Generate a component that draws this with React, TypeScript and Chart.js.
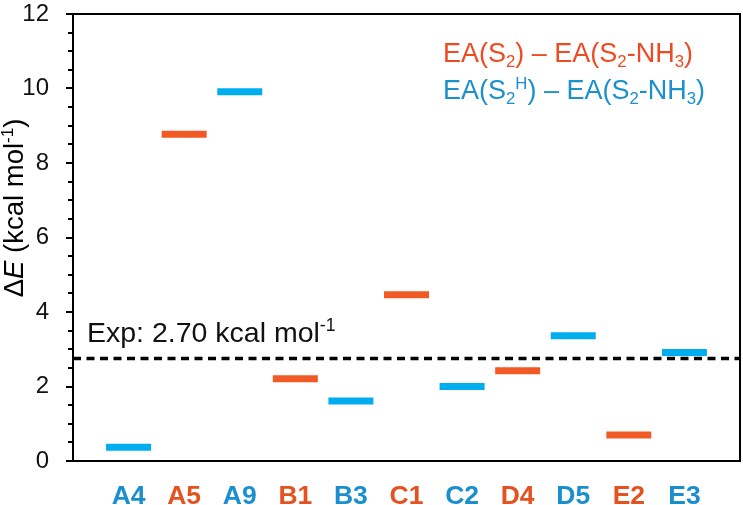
import React, { useEffect, useRef } from "react";
import { Chart, registerables } from "chart.js";

Chart.register(...registerables);

const FONT = '"Liberation Sans", Arial, Helvetica, sans-serif';

const categories = ["A4", "A5", "A9", "B1", "B3", "C1", "C2", "D4", "D5", "E2", "E3"];
// EA(S2) – EA(S2-NH3)  (orange)
const orangeValues: (number | null)[] = [null, 8.77, null, 2.21, null, 4.46, null, 2.42, null, 0.7, null];
// EA(S2H) – EA(S2-NH3) (blue)
const blueValues: (number | null)[] = [0.37, null, 9.91, null, 1.61, null, 2.0, null, 3.36, null, 2.91];
const expValue = 2.75;
const yTicks = [0, 2, 4, 6, 8, 10, 12];

const ORANGE = "#F15A24";
const BLUE = "#00AEEF";
const ORANGE_TXT = "#E4531F";
const BLUE_TXT = "#1A8FCF";
const LEG_ORANGE = "#EF4B23";
const LEG_BLUE = "#1A90CC";

type Seg = { t: string; sub?: boolean; sup?: boolean; italic?: boolean };

function drawRich(ctx: CanvasRenderingContext2D, segs: Seg[], x: number, y: number, size: number, color: string, align: "left" | "center" = "left") {
  const fontFor = (s: Seg) => {
    const sz = s.sub || s.sup ? size * 0.62 : size;
    return `${s.italic ? "italic " : ""}${sz}px ${FONT}`;
  };
  let total = 0;
  const widths = segs.map((s) => {
    ctx.font = fontFor(s);
    const w = ctx.measureText(s.t).width;
    total += w;
    return w;
  });
  let cx = align === "center" ? x - total / 2 : x;
  ctx.fillStyle = color;
  ctx.textAlign = "left";
  ctx.textBaseline = "alphabetic";
  segs.forEach((s, i) => {
    ctx.font = fontFor(s);
    const dy = s.sub ? size * 0.2 : s.sup ? -size * 0.38 : 0;
    ctx.fillText(s.t, cx, y + dy);
    cx += widths[i];
  });
}

const decorPlugin = {
  id: "decor",
  afterDraw(chart: any) {
    const ctx: CanvasRenderingContext2D = chart.ctx;
    const area = chart.chartArea;
    const ys = chart.scales.y;
    ctx.save();
    // frame
    ctx.strokeStyle = "#000";
    ctx.lineWidth = 2;
    ctx.strokeRect(area.left, area.top, area.right - area.left, area.bottom - area.top);
    // ticks
    for (let v = ys.min; v <= ys.max + 1e-9; v += 0.5) {
      const py = Math.round(ys.getPixelForValue(v));
      const major = Math.abs(v / 2 - Math.round(v / 2)) < 1e-9;
      const len = major ? 7 : 5;
      ctx.beginPath();
      ctx.moveTo(area.left - len, py);
      ctx.lineTo(area.left, py);
      ctx.stroke();
    }
    // Y title
    ctx.save();
    ctx.translate(23, 208);
    ctx.rotate(-Math.PI / 2);
    drawRich(ctx, [{ t: "Δ" }, { t: "E", italic: true }, { t: " (kcal mol" }, { t: "-1", sup: true }, { t: ")" }], 0, 0, 27.5, "#000", "center");
    ctx.restore();
    // Exp label
    drawRich(ctx, [{ t: "Exp: 2.70 kcal mol" }, { t: "-1", sup: true }], area.left + 14, ys.getPixelForValue(expValue) - 17, 28.5, "#111");
    // legend
    drawRich(ctx, [{ t: "EA(S" }, { t: "2", sub: true }, { t: ") – EA(S" }, { t: "2", sub: true }, { t: "-NH" }, { t: "3", sub: true }, { t: ")" }], 443, 62, 27, LEG_ORANGE);
    drawRich(ctx, [{ t: "EA(S" }, { t: "2", sub: true }, { t: "H", sup: true }, { t: ") – EA(S" }, { t: "2", sub: true }, { t: "-NH" }, { t: "3", sub: true }, { t: ")" }], 443, 99, 27, LEG_BLUE);
    ctx.restore();
  },
};

export default function App() {
  const ref = useRef<HTMLCanvasElement | null>(null);
  useEffect(() => {
    if (!ref.current) return;
    const toPts = (vals: (number | null)[]) =>
      vals.map((v, i) => (v === null ? null : { x: i, y: v })).filter((p) => p !== null) as { x: number; y: number }[];
    const groupColor = categories.map((_, i) => (orangeValues[i] !== null ? ORANGE_TXT : BLUE_TXT));
    const chart = new Chart(ref.current, {
      type: "scatter",
      data: {
        datasets: [
          {
            type: "line",
            label: "Exp",
            data: [
              { x: -1, y: expValue },
              { x: categories.length, y: expValue },
            ],
            borderColor: "#000",
            borderWidth: 3.5,
            borderDash: [8, 5.5],
            pointRadius: 0,
            order: 0,
          } as any,
          {
            label: "EA(S2) – EA(S2-NH3)",
            data: toPts(orangeValues),
            pointStyle: "line",
            radius: 22.5,
            borderWidth: 7,
            borderColor: ORANGE,
            backgroundColor: ORANGE,
            order: 1,
          } as any,
          {
            label: "EA(S2H) – EA(S2-NH3)",
            data: toPts(blueValues),
            pointStyle: "line",
            radius: 22.5,
            borderWidth: 7,
            borderColor: BLUE,
            backgroundColor: BLUE,
            order: 1,
          } as any,
        ],
      },
      options: {
        animation: false,
        responsive: false,
        events: [],
        layout: { autoPadding: false, padding: { top: 14, right: 3, left: 0, bottom: 0 } },
        plugins: { legend: { display: false }, tooltip: { enabled: false } },
        scales: {
          x: {
            type: "linear",
            min: -1,
            max: categories.length,
            grid: { display: false },
            border: { display: false },
            afterFit: (s: any) => {
              s.height = 44;
              s.paddingLeft = 0;
              s.paddingRight = 0;
            },
            afterBuildTicks: (s: any) => {
              s.ticks = categories.map((_, i) => ({ value: i }));
            },
            ticks: {
              autoSkip: false,
              maxRotation: 0,
              padding: 12,
              font: { family: FONT, size: 26.5, weight: "bold" },
              color: (c: any) => groupColor[c.tick.value] ?? "#000",
              callback: (v: any) => categories[v] ?? "",
            },
          },
          y: {
            type: "linear",
            min: 0,
            max: 12,
            grid: { display: false },
            border: { display: false },
            afterFit: (s: any) => {
              s.width = 73;
              s.paddingTop = 0;
              s.paddingBottom = 0;
            },
            afterBuildTicks: (s: any) => {
              s.ticks = yTicks.map((v) => ({ value: v }));
            },
            ticks: {
              padding: 16,
              font: { family: FONT, size: 24 },
              color: "#111",
            },
          },
        },
      },
      plugins: [decorPlugin],
    } as any);
    return () => chart.destroy();
  }, []);
  return (
    <div style={{ position: "fixed", left: 0, top: 0, width: 743, height: 505, background: "#fff" }}>
      <canvas ref={ref} width={743} height={505} style={{ width: 743, height: 505 }} />
    </div>
  );
}
